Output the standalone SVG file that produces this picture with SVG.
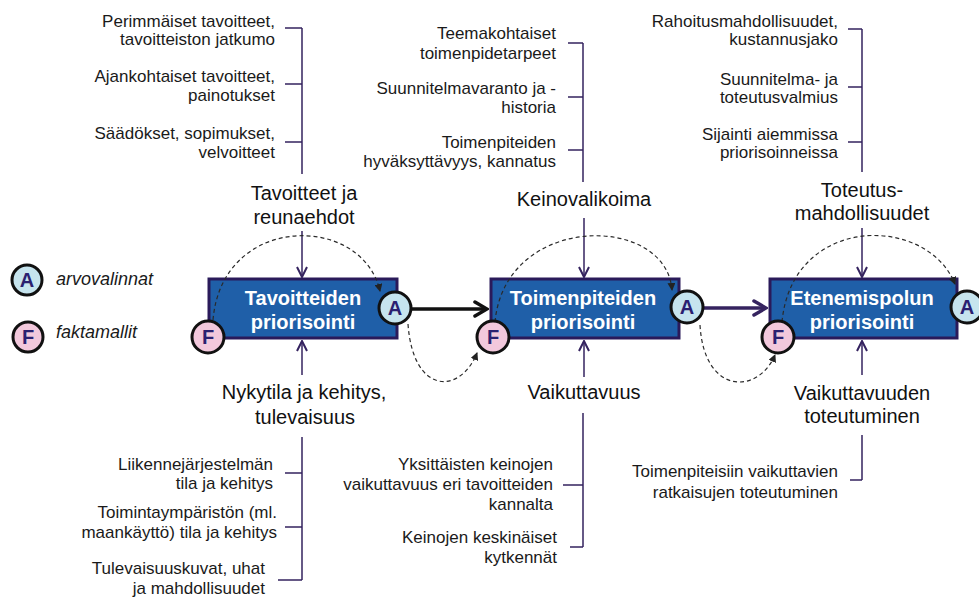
<svg xmlns="http://www.w3.org/2000/svg" width="979" height="600" viewBox="0 0 979 600">
<defs>
<marker id="vh" viewBox="0 0 12 12" refX="11" refY="6" markerWidth="12" markerHeight="12" markerUnits="userSpaceOnUse" orient="auto">
<path d="M1,1 L11,6 L1,11" fill="none" stroke="#35235f" stroke-width="2"/>
</marker>
<marker id="hb" viewBox="0 0 16 18" refX="14" refY="9" markerWidth="16" markerHeight="18" markerUnits="userSpaceOnUse" orient="auto">
<path d="M2,2 L14,9 L2,16" fill="none" stroke="#111" stroke-width="3.5" stroke-linecap="round"/>
</marker>
<marker id="hp" viewBox="0 0 16 18" refX="14" refY="9" markerWidth="16" markerHeight="18" markerUnits="userSpaceOnUse" orient="auto">
<path d="M2,2 L14,9 L2,16" fill="none" stroke="#35235f" stroke-width="3.5" stroke-linecap="round"/>
</marker>
<marker id="dh" viewBox="0 0 8 8" refX="7" refY="4" markerWidth="8" markerHeight="8" markerUnits="userSpaceOnUse" orient="auto">
<path d="M0,0 L8,4 L0,8 Z" fill="#222"/>
</marker>
</defs>
<style>
.s{font-family:"Liberation Sans",Arial,sans-serif;font-size:17px;fill:#1a1a1a;text-anchor:end}
.l{font-family:"Liberation Sans",Arial,sans-serif;font-size:20px;fill:#111;text-anchor:middle}
.bt{font-family:"Liberation Sans",Arial,sans-serif;font-size:20px;font-weight:bold;fill:#fff;text-anchor:middle}
.box{fill:#1f5fa8;stroke:#2a1a5a;stroke-width:3}
.br{fill:none;stroke:#35235f;stroke-width:1.5}
.va{fill:none;stroke:#35235f;stroke-width:1.5;marker-end:url(#vh)}
.dash{fill:none;stroke:#2a2a2a;stroke-width:1.2;stroke-dasharray:4 3;marker-end:url(#dh)}
.ca{fill:#c6e4ee;stroke:#111;stroke-width:3}
.cf{fill:#f2c8dc;stroke:#111;stroke-width:3}
.ct{font-family:"Liberation Sans",Arial,sans-serif;font-size:20px;font-weight:bold;fill:#2a2070;text-anchor:middle}
.it{font-family:"Liberation Sans",Arial,sans-serif;font-size:18px;font-style:italic;fill:#1a1a1a}
</style>
<rect width="979" height="600" fill="#fff"/>

<g id="legend">
<circle class="ca" cx="27" cy="280" r="15"/><text class="ct" x="27" y="287">A</text>
<text class="it" x="56" y="285">arvovalinnat</text>
<circle class="cf" cx="28" cy="337" r="15"/><text class="ct" x="28" y="344">F</text>
<text class="it" x="56" y="338">faktamallit</text>
</g>

<g id="node-tavoitteiden">
<rect class="box" x="209" y="279" width="188" height="59"/>
<text class="bt" x="303" y="305">Tavoitteiden</text>
<text class="bt" x="303" y="329">priorisointi</text>
</g>
<g id="node-toimenpiteiden">
<rect class="box" x="491" y="279" width="188" height="59"/>
<text class="bt" x="583" y="305">Toimenpiteiden</text>
<text class="bt" x="583" y="329">priorisointi</text>
</g>
<g id="node-etenemispolun">
<rect class="box" x="770" y="279" width="187" height="59"/>
<text class="bt" x="862" y="305">Etenemispolun</text>
<text class="bt" x="862" y="329">priorisointi</text>
</g>

<g id="top-left">
<text class="s" x="275" y="27">Perimmäiset tavoitteet,</text>
<text class="s" x="275" y="45">tavoitteiston jatkumo</text>
<text class="s" x="275" y="82">Ajankohtaiset tavoitteet,</text>
<text class="s" x="275" y="101">painotukset</text>
<text class="s" x="275" y="139">Säädökset, sopimukset,</text>
<text class="s" x="275" y="158">velvoitteet</text>
<text class="l" x="304" y="200">Tavoitteet ja</text>
<text class="l" x="304" y="224">reunaehdot</text>
</g>
<g id="top-middle">
<text class="s" x="556" y="39">Teemakohtaiset</text>
<text class="s" x="556" y="59">toimenpidetarpeet</text>
<text class="s" x="556" y="94">Suunnitelmavaranto ja -</text>
<text class="s" x="556" y="113">historia</text>
<text class="s" x="556" y="148">Toimenpiteiden</text>
<text class="s" x="556" y="167">hyväksyttävyys, kannatus</text>
<text class="l" x="584" y="206">Keinovalikoima</text>
</g>
<g id="top-right">
<text class="s" x="838" y="27">Rahoitusmahdollisuudet,</text>
<text class="s" x="838" y="45">kustannusjako</text>
<text class="s" x="838" y="85">Suunnitelma- ja</text>
<text class="s" x="838" y="103">toteutusvalmius</text>
<text class="s" x="838" y="140">Sijainti aiemmissa</text>
<text class="s" x="838" y="158">priorisoinneissa</text>
<text class="l" x="862" y="197">Toteutus-</text>
<text class="l" x="862" y="220">mahdollisuudet</text>
</g>
<g id="bottom-left">
<text class="l" x="304" y="399">Nykytila ja kehitys,</text>
<text class="l" x="305" y="424">tulevaisuus</text>
<text class="s" x="273" y="470">Liikennejärjestelmän</text>
<text class="s" x="273" y="489">tila ja kehitys</text>
<text class="s" x="277" y="518">Toimintaympäristön (ml.</text>
<text class="s" x="277" y="538">maankäyttö) tila ja kehitys</text>
<text class="s" x="265" y="574">Tulevaisuuskuvat, uhat</text>
<text class="s" x="265" y="594">ja mahdollisuudet</text>
</g>
<g id="bottom-middle">
<text class="l" x="584" y="399">Vaikuttavuus</text>
<text class="s" x="553" y="470">Yksittäisten keinojen</text>
<text class="s" x="553" y="490">vaikuttavuus eri tavoitteiden</text>
<text class="s" x="553" y="510">kannalta</text>
<text class="s" x="557" y="543">Keinojen keskinäiset</text>
<text class="s" x="557" y="563">kytkennät</text>
</g>
<g id="bottom-right">
<text class="l" x="862" y="400">Vaikuttavuuden</text>
<text class="l" x="862" y="423">toteutuminen</text>
<text class="s" x="838" y="477">Toimenpiteisiin vaikuttavien</text>
<text class="s" x="838" y="498">ratkaisujen toteutuminen</text>
</g>

<g id="connectors">
<path class="br" d="M302,28 V174 M285,28 H302 M285,84 H302 M285,142 H302"/>
<path class="br" d="M583,43 V182 M568,43 H583 M568,97 H583 M568,150 H583"/>
<path class="br" d="M862,29 V172 M848,29 H862 M848,87 H862 M848,142 H862"/>
<path class="br" d="M302,437 V580 M285,473 H302 M285,527 H302 M278,580 H302"/>
<path class="br" d="M583,413 V547 M563,485 H583 M570,547 H583"/>
<path class="br" d="M862,435 V480 M850,480 H862"/>
<line class="va" x1="302" y1="231" x2="302" y2="277"/>
<line class="va" x1="584" y1="218" x2="584" y2="277"/>
<line class="va" x1="862" y1="228" x2="862" y2="277"/>
<line class="va" x1="302" y1="375" x2="302" y2="341"/>
<line class="va" x1="584" y1="377" x2="584" y2="341"/>
<line class="va" x1="862" y1="375" x2="862" y2="341"/>
<line x1="411" y1="309" x2="487" y2="309" stroke="#111" stroke-width="3.5" marker-end="url(#hb)"/>
<line x1="703" y1="308" x2="766" y2="308" stroke="#35235f" stroke-width="3.5" marker-end="url(#hp)"/>
<path class="dash" d="M213,320 C222,213 362,213 380,291"/>
<path class="dash" d="M408,324 C413,395 460,395 477,353"/>
<path class="dash" d="M495,322 C505,213 666,213 672,290"/>
<path class="dash" d="M700,325 C704,395 758,395 775,355"/>
<path class="dash" d="M782,322 C792,214 927,214 955,284"/>
</g>

<g id="circles">
<circle class="ca" cx="395" cy="308" r="16"/><text class="ct" x="395" y="315">A</text>
<circle class="cf" cx="208" cy="337" r="16"/><text class="ct" x="208" y="344">F</text>
<circle class="ca" cx="687" cy="307" r="16"/><text class="ct" x="687" y="314">A</text>
<circle class="cf" cx="493" cy="337" r="16"/><text class="ct" x="493" y="344">F</text>
<circle class="ca" cx="967" cy="307" r="16"/><text class="ct" x="967" y="314">A</text>
<circle class="cf" cx="778" cy="337" r="16"/><text class="ct" x="778" y="344">F</text>
</g>
</svg>
